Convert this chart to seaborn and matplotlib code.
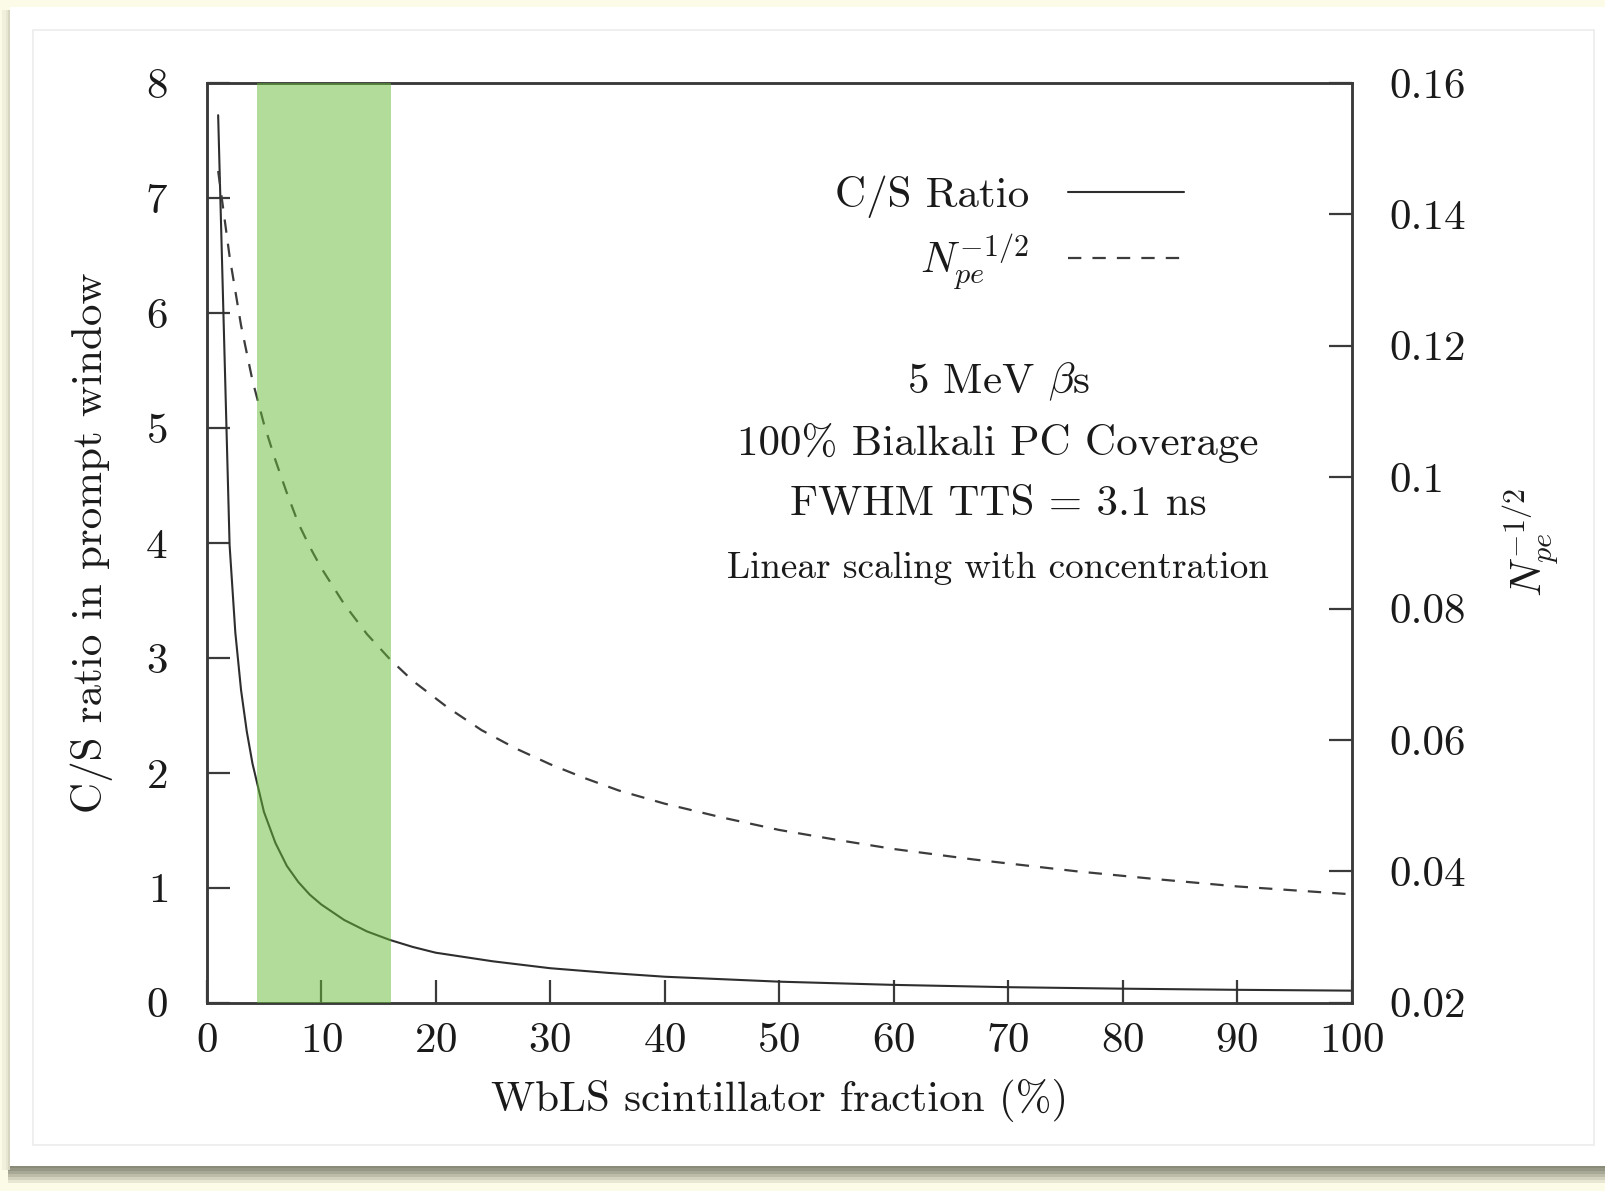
import numpy as np
import pandas as pd
import matplotlib
matplotlib.use("Agg")
import matplotlib.pyplot as plt
from matplotlib.patches import Rectangle
from matplotlib.lines import Line2D
from matplotlib.ticker import FuncFormatter
import seaborn as sns

# ---------------- data ----------------
cs_x = [1, 2, 2.5, 3, 3.5, 4, 5, 6, 7, 8, 9, 10, 12, 14, 16, 18, 20, 25, 30, 35,
        40, 50, 60, 70, 80, 90, 100]
cs_y = [7.72, 3.98, 3.22, 2.72, 2.36, 2.08, 1.66, 1.39, 1.19, 1.05, 0.94, 0.855,
        0.72, 0.62, 0.546, 0.485, 0.435, 0.36, 0.30, 0.26, 0.226, 0.183, 0.155,
        0.135, 0.122, 0.112, 0.105]

npe_x = [1, 2, 3, 4, 5, 6, 7, 8, 9, 10, 12, 14, 16, 18, 21, 24, 27, 30, 33, 36,
         40, 45, 50, 55, 60, 67, 76, 83, 90, 100]
npe_y = [0.1466, 0.1336, 0.1231, 0.1147, 0.1081, 0.1026, 0.0976, 0.0930, 0.0894,
         0.0862, 0.0807, 0.0761, 0.0723, 0.0690, 0.0650, 0.0615, 0.0587, 0.0563,
         0.0542, 0.0523, 0.0503, 0.0482, 0.0463, 0.0448, 0.0434, 0.0418, 0.0400,
         0.0388, 0.0377, 0.0365]

band_range = [4.4, 16.1]

x_ticks = [0, 10, 20, 30, 40, 50, 60, 70, 80, 90, 100]
left_ticks = [0, 1, 2, 3, 4, 5, 6, 7, 8]
right_ticks = [0.02, 0.04, 0.06, 0.08, 0.10, 0.12, 0.14, 0.16]

legend_labels = ["C/S Ratio", r"$N_{pe}^{-1/2}$"]
info_lines = [r"5 MeV $\beta$s", "100% Bialkali PC Coverage", "FWHM TTS = 3.1 ns"]
info_small = "Linear scaling with concentration"

df_cs = pd.DataFrame({"x": cs_x, "y": cs_y})
df_np = pd.DataFrame({"x": npe_x, "y": npe_y})

# ---------------- style ----------------
sns.set_theme(style="white")
plt.rcParams["font.family"] = ["cmr10", "DejaVu Serif"]
plt.rcParams["mathtext.fontset"] = "cm"
plt.rcParams["axes.unicode_minus"] = False
plt.rcParams["axes.formatter.use_mathtext"] = True

W, H = 1605, 1191
fig = plt.figure(figsize=(W / 100, H / 100), dpi=100)
fig.patch.set_facecolor("#fbfbe7")

def px_rect(x0, y0, x1, y1, z, **kw):
    r = Rectangle((x0 / W, 1 - y1 / H), (x1 - x0) / W, (y1 - y0) / H,
                  transform=fig.transFigure, zorder=z, **kw)
    fig.add_artist(r)
    return r

# drop shadow (bottom / left)
shadow_cols = ["#8a8a78", "#979785", "#a8a896", "#bcbca8", "#d2d2be", "#e6e6d2"]
for i, c in enumerate(shadow_cols):
    px_rect(8, 1165 + 3 * i, W, 1168 + 3 * i, -5, facecolor=c, edgecolor="none")
for i, c in enumerate(["#d6d6c2", "#e6e6d2", "#f0f0dc"]):
    px_rect(8 - 2 * (i + 1), 10, 10 - 2 * i, 1170, -5, facecolor=c, edgecolor="none")
# white card
px_rect(10, 7, W, 1166, -4, facecolor="white", edgecolor="none")
px_rect(33, 30, 1594, 1145, -3, facecolor="white", edgecolor="#ececec", lw=1.2)

# ---------------- axes ----------------
ax_l, ax_r = 206.7 / W, 1351.5 / W
ax_b, ax_t = 1 - 1002.7 / H, 1 - 83.0 / H
ax = fig.add_axes([ax_l, ax_b, ax_r - ax_l, ax_t - ax_b])
ax.set_facecolor("none")
ax2 = ax.twinx()
ax2.set_facecolor("none")

dash = (0, (6, 5))
sns.lineplot(data=df_cs, x="x", y="y", ax=ax, color="#2e2e2e", lw=1.5,
             estimator=None, sort=False)
sns.lineplot(data=df_np, x="x", y="y", ax=ax2, color="#3c3c3c", lw=1.6,
             estimator=None, sort=False, linestyle=dash)

ax2.axvspan(band_range[0], band_range[1], color=(0.40, 0.73, 0.21), alpha=0.5,
            lw=0, zorder=10)

ax.set_xlim(0, 100)
ax.set_ylim(0, 8)
ax2.set_ylim(0.02, 0.16)

spine_col = "#3a3a3a"
for a in (ax, ax2):
    for s in a.spines.values():
        s.set_color(spine_col)
        s.set_linewidth(1.8)
        s.set_visible(True)

tick_fs = 31
ax.set_xticks(x_ticks)
ax.set_yticks(left_ticks)
ax2.set_yticks(right_ticks)
ax2.yaxis.set_major_formatter(FuncFormatter(lambda v, p: ("%g" % round(v, 4))))
ax.tick_params(axis="both", direction="in", length=16.5, width=1.6, color=spine_col,
               labelsize=tick_fs, labelcolor="#1a1a1a", top=False, right=False,
               left=True, bottom=True)
ax.tick_params(axis="x", pad=14)
ax.tick_params(axis="y", pad=28)
ax2.tick_params(axis="y", direction="in", length=16.5, width=1.6, color=spine_col,
                labelsize=tick_fs, labelcolor="#1a1a1a", left=False, right=True,
                pad=27)

ax.set_xlabel("WbLS scintillator fraction (%)", fontsize=tick_fs, color="#1a1a1a",
              labelpad=14)
ax.set_ylabel("C/S ratio in prompt window", fontsize=tick_fs, color="#1a1a1a",
              labelpad=23)
ax2.set_ylabel(r"$N_{pe}^{-1/2}$", fontsize=tick_fs, color="#1a1a1a", labelpad=26)

# legend (text left, sample right)
handles = [Line2D([], [], color="#2e2e2e", lw=1.5),
           Line2D([], [], color="#3c3c3c", lw=1.6, linestyle=dash)]
leg = fig.legend(handles, legend_labels, loc="center right",
                 bbox_to_anchor=(1184 / W, 1 - 234 / H), frameon=False,
                 markerfirst=False, fontsize=tick_fs, handlelength=2.7,
                 handletextpad=0.9, borderpad=0, borderaxespad=0, labelspacing=0.33)
for t in leg.get_texts():
    t.set_ha("right")
    t.set_color("#1a1a1a")

# info text
ys = [382, 443, 504]
for s, y in zip(info_lines, ys):
    fig.text(998 / W, 1 - y / H, s, ha="center", va="center", fontsize=tick_fs,
             color="#1a1a1a")
fig.text(998 / W, 1 - 568 / H, info_small, ha="center", va="center", fontsize=26.7,
         color="#1a1a1a")

fig.savefig("out.png", dpi=100, facecolor=fig.get_facecolor())
